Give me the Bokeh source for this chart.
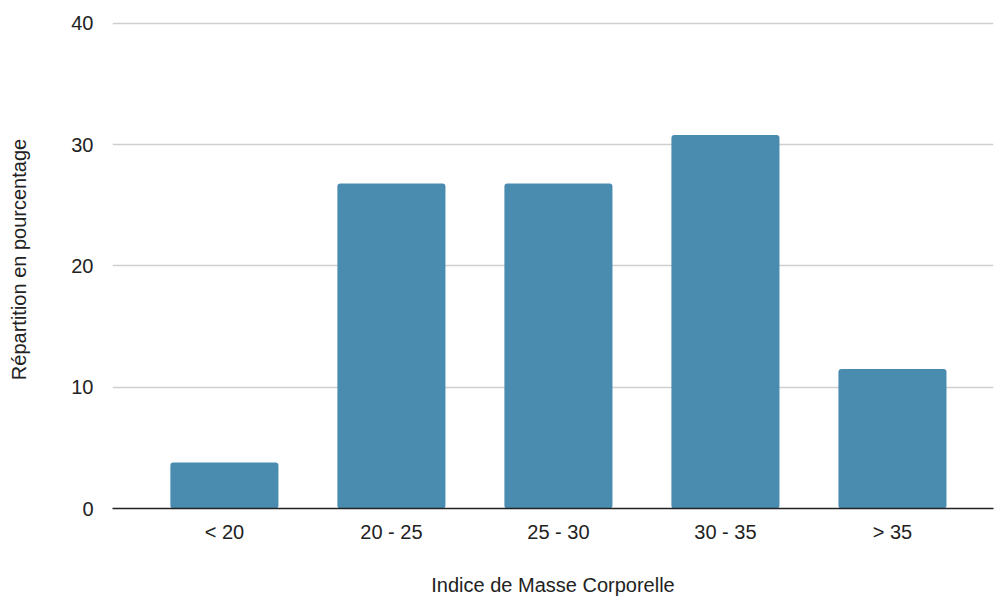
from bokeh.plotting import figure
from bokeh.models import Range1d, FixedTicker, ColumnDataSource
from bokeh.embed import file_html
from bokeh.resources import INLINE

# BMI classes and share of respondents in each (%)
categories = ["< 20", "20 - 25", "25 - 30", "30 - 35", "> 35"]
shares = [3.8, 26.8, 26.8, 30.8, 11.5]
y_ticks = [0, 10, 20, 30, 40]

positions = list(range(len(categories)))
source = ColumnDataSource(data=dict(x=positions, top=shares, label=categories))

FONT = "Liberation Sans"
TEXT = "#222222"

p = figure(
    width=994, height=598,
    output_backend="svg", toolbar_location=None,
    x_range=Range1d(-0.67, 4.605),
    y_range=Range1d(0, 41.07),
    min_border_left=112, min_border_right=1,
    min_border_top=10, min_border_bottom=90,
)
p.outline_line_color = None
p.background_fill_color = "white"
p.border_fill_color = "white"

p.vbar(x="x", top="top", width=0.647, source=source,
       fill_color="#4a8bb0", line_color=None, border_radius=3)

# x axis: category labels under each bar
xa = p.xaxis[0]
xa.ticker = FixedTicker(ticks=positions)
xa.major_label_overrides = {i: c for i, c in enumerate(categories)}
xa.axis_label = "Indice de Masse Corporelle"
xa.axis_line_color = "#222222"
xa.axis_line_width = 1.5
xa.major_tick_line_color = None
xa.minor_tick_line_color = None
xa.major_label_standoff = 6
xa.axis_label_standoff = 28
xa.major_label_text_font = FONT
xa.major_label_text_font_size = "20px"
xa.major_label_text_color = TEXT
xa.axis_label_text_font = FONT
xa.axis_label_text_font_size = "20px"
xa.axis_label_text_font_style = "normal"
xa.axis_label_text_color = TEXT

# y axis: percentage scale
ya = p.yaxis[0]
ya.ticker = FixedTicker(ticks=y_ticks)
ya.axis_label = "Répartition en pourcentage"
ya.axis_line_color = None
ya.major_tick_line_color = None
ya.minor_tick_line_color = None
ya.major_label_standoff = 13
ya.axis_label_standoff = 38
ya.major_label_text_font = FONT
ya.major_label_text_font_size = "20px"
ya.major_label_text_color = TEXT
ya.axis_label_text_font = FONT
ya.axis_label_text_font_size = "20px"
ya.axis_label_text_font_style = "normal"
ya.axis_label_text_color = TEXT

p.xgrid.grid_line_color = None
p.ygrid.ticker = FixedTicker(ticks=y_ticks[1:])
p.ygrid.grid_line_color = "#cfcfcf"
p.ygrid.grid_line_width = 1.5

open("out.html", "w").write(file_html(p, INLINE))
